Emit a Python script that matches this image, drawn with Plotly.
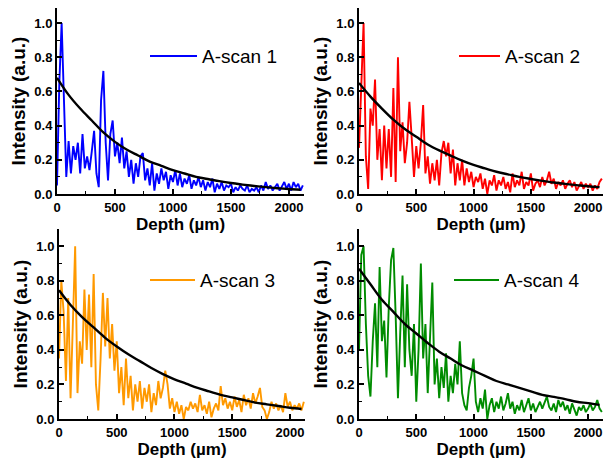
import plotly.graph_objects as go
from plotly.subplots import make_subplots

# sample positions (um), 20 um steps
depth = list(range(0, 2140, 20))

# A-scan intensities
ascan1 = [0.05, 0.65, 1.00, 0.55, 0.10, 0.31, 0.12, 0.28, 0.20, 0.30,
          0.12, 0.35, 0.15, 0.22, 0.14, 0.25, 0.37, 0.12, 0.04, 0.55,
          0.72, 0.30, 0.08, 0.35, 0.43, 0.22, 0.30, 0.18, 0.33, 0.15,
          0.25, 0.10, 0.20, 0.06, 0.18, 0.10, 0.22, 0.24, 0.08, 0.15,
          0.05, 0.18, 0.02, 0.12, 0.06, 0.15, 0.08, 0.13, 0.03, 0.11,
          0.07, 0.14, 0.05, 0.12, 0.04, 0.09, 0.06, 0.11, 0.03, 0.08,
          0.05, 0.10, 0.04, 0.08, 0.02, 0.07, 0.04, 0.09, 0.01, 0.06,
          0.03, 0.07, 0.02, 0.05, 0.04, 0.06, 0.01, 0.04, 0.02, 0.05,
          0.03, 0.02, 0.05, 0.01, 0.03, 0.02, 0.04, 0.01, 0.05, 0.02,
          0.07, 0.03, 0.05, 0.02, 0.04, 0.06, 0.02, 0.05, 0.07, 0.03,
          0.06, 0.02, 0.07, 0.04, 0.06, 0.02, 0.05]

ascan2 = [0.27, 0.65, 1.00, 0.22, 0.03, 0.50, 0.40, 0.67, 0.20, 0.38,
          0.08, 0.40, 0.15, 0.38, 0.10, 0.62, 0.07, 0.80, 0.25, 0.42,
          0.18, 0.30, 0.54, 0.33, 0.10, 0.28, 0.15, 0.30, 0.52, 0.12,
          0.22, 0.06, 0.18, 0.08, 0.20, 0.05, 0.24, 0.31, 0.22, 0.30,
          0.12, 0.26, 0.05, 0.18, 0.08, 0.20, 0.05, 0.15, 0.07, 0.13,
          0.04, 0.10, 0.07, 0.12, 0.03, 0.09, 0.00, 0.08, 0.05, 0.11,
          0.02, 0.08, 0.05, 0.10, 0.03, 0.07, 0.01, 0.12, 0.04, 0.08,
          0.05, 0.13, 0.03, 0.07, 0.05, 0.12, 0.02, 0.06, 0.08, 0.04,
          0.10, 0.05, 0.08, 0.13, 0.06, 0.09, 0.03, 0.07, 0.05, 0.08,
          0.03, 0.06, 0.08, 0.04, 0.07, 0.02, 0.05, 0.07, 0.03, 0.06,
          0.04, 0.06, 0.02, 0.05, 0.03, 0.07, 0.09]

ascan3 = [0.35, 0.80, 0.62, 0.22, 0.70, 0.12, 0.55, 1.00, 0.15, 0.45,
          0.32, 0.75, 0.40, 0.72, 0.30, 0.84, 0.20, 0.05, 0.35, 0.73,
          0.42, 0.70, 0.35, 0.55, 0.28, 0.45, 0.15, 0.30, 0.08, 0.35,
          0.12, 0.25, 0.05, 0.20, 0.10, 0.22, 0.06, 0.18, 0.10, 0.20,
          0.04, 0.15, 0.08, 0.22, 0.12, 0.18, 0.28, 0.20, 0.06, 0.12,
          0.04, 0.10, 0.03, 0.08, 0.00, 0.07, 0.05, 0.10, 0.06, 0.09,
          0.04, 0.14, 0.05, 0.08, 0.03, 0.10, 0.01, 0.06, 0.09, 0.05,
          0.19, 0.08, 0.12, 0.06, 0.10, 0.05, 0.13, 0.07, 0.11, 0.04,
          0.14, 0.08, 0.12, 0.06, 0.15, 0.09, 0.13, 0.18, 0.07, 0.05,
          0.00, 0.04, 0.10, 0.06, 0.09, 0.05, 0.08, 0.04, 0.15, 0.07,
          0.10, 0.05, 0.08, 0.06, 0.09, 0.05, 0.10]

ascan4 = [0.40, 0.95, 1.00, 0.55, 0.25, 0.13, 0.45, 0.67, 0.30, 0.88,
          0.45, 0.57, 0.24, 0.65, 0.92, 0.99, 0.60, 0.12, 0.50, 0.83,
          0.30, 0.78, 0.40, 0.25, 0.55, 0.10, 0.40, 0.90, 0.35, 0.55,
          0.15, 0.45, 0.79, 0.20, 0.35, 0.12, 0.30, 0.18, 0.38, 0.10,
          0.25, 0.15, 0.32, 0.20, 0.45, 0.15, 0.08, 0.05, 0.18, 0.25,
          0.35, 0.10, 0.04, 0.12, 0.06, 0.17, 0.00, 0.08, 0.12, 0.04,
          0.10, 0.06, 0.13, 0.05, 0.09, 0.15, 0.06, 0.10, 0.03, 0.08,
          0.05, 0.11, 0.04, 0.08, 0.12, 0.05, 0.09, 0.04, 0.07, 0.10,
          0.06, 0.09, 0.13, 0.07, 0.05, 0.09, 0.04, 0.11, 0.07, 0.10,
          0.05, 0.08, 0.03, 0.09, 0.06, 0.02, 0.07, 0.05, 0.08, 0.04,
          0.06, 0.09, 0.05, 0.07, 0.11, 0.06, 0.04]

# exponential fits, read every 100 um
fit_depth = list(range(0, 2200, 100))
fit1 = [0.68, 0.58, 0.50, 0.43, 0.36, 0.305, 0.26, 0.225, 0.19, 0.165, 0.14,
        0.12, 0.10, 0.088, 0.075, 0.064, 0.055, 0.047, 0.04, 0.034, 0.029, 0.025]
fit2 = [0.65, 0.57, 0.50, 0.435, 0.38, 0.335, 0.29, 0.255, 0.225, 0.195, 0.17,
        0.15, 0.13, 0.115, 0.10, 0.088, 0.077, 0.067, 0.059, 0.052, 0.045, 0.04]
fit3 = [0.745, 0.66, 0.59, 0.53, 0.47, 0.42, 0.375, 0.335, 0.295, 0.26, 0.23,
        0.205, 0.18, 0.16, 0.14, 0.125, 0.11, 0.095, 0.085, 0.075, 0.065, 0.058]
fit4 = [0.87, 0.78, 0.69, 0.62, 0.55, 0.495, 0.44, 0.39, 0.35, 0.31, 0.28,
        0.25, 0.22, 0.20, 0.18, 0.16, 0.14, 0.128, 0.115, 0.10, 0.092, 0.082]

names = ["A-scan 1", "A-scan 2", "A-scan 3", "A-scan 4"]
colors = ["#0000ff", "#ff0000", "#ff9900", "#008c00"]
scans = [ascan1, ascan2, ascan3, ascan4]
fits = [fit1, fit2, fit3, fit4]

fig = make_subplots(rows=2, cols=2)

pos = [(1, 1), (1, 2), (2, 1), (2, 2)]
for i in range(4):
    r, c = pos[i]
    fig.add_trace(go.Scatter(x=depth, y=scans[i], mode="lines", name=names[i],
                             line={"color": colors[i], "width": 1.9}),
                  row=r, col=c)
    fig.add_trace(go.Scatter(x=fit_depth, y=fits[i], mode="lines",
                             line={"color": "black", "width": 2.4, "shape": "spline"}),
                  row=r, col=c)

# page body adds an 8 px offset, so positions are taken relative to it
W, H = 616.0, 461.0
OFF = 8


def px_x(v):
    return (v - OFF) / W


def px_y(v):
    return min(1.0, 1 - (v - OFF) / H)


xdom = [[px_x(57), px_x(304)], [px_x(359), px_x(603)],
        [px_x(59), px_x(305)], [px_x(359), px_x(603)]]
# top row: axis top would sit above the page edge, so trim range to fit
ydom = [[px_y(194), 1.0], [px_y(194), 1.0],
        [px_y(419), px_y(229)], [px_y(419), px_y(229)]]
ytop = [1.1 * (194 - OFF) / (194 - 6)] * 2 + [1.1, 1.1]

tickfont = dict(family="Liberation Sans Narrow, Liberation Sans, Arial", size=13, color="black")
xtitlefont = dict(family="Liberation Sans, Arial", size=17, color="black")
ytitlefont = dict(family="Liberation Sans, Arial", size=19, color="black")

for i in range(4):
    sfx = "" if i == 0 else str(i + 1)
    fig.layout["xaxis" + sfx].update(
        domain=xdom[i], range=[0, 2130], dtick=500, tick0=0, automargin=False,
        showline=True, linecolor="black", linewidth=2,
        ticks="inside", ticklen=5, tickwidth=1.5, tickcolor="black",
        minor=dict(dtick=250, ticks="inside", ticklen=3, tickwidth=1.2, tickcolor="black"),
        showgrid=False, zeroline=False,
        tickfont=tickfont, tickprefix="<b>", ticksuffix="</b>",
        title=dict(text="<b>Depth (µm)</b>", font=xtitlefont, standoff=0))
    fig.layout["yaxis" + sfx].update(
        domain=ydom[i], range=[0, ytop[i]], dtick=0.2, tick0=0, tickformat=".1f",
        automargin=False,
        showline=True, linecolor="black", linewidth=2,
        ticks="inside", ticklen=5, tickwidth=1.5, tickcolor="black",
        minor=dict(dtick=0.1, ticks="inside", ticklen=3, tickwidth=1.2, tickcolor="black"),
        showgrid=False, zeroline=False,
        tickfont=tickfont, tickprefix="<b>", ticksuffix="</b>",
        title=dict(text="<b>Intensity (a.u.)</b>", font=ytitlefont, standoff=4))

# legends drawn as line + label inside each panel
leg_line = [(150, 197, 56), (459, 500, 56), (150, 195, 280), (454, 499, 280)]
shapes = []
annotations = []
for i in range(4):
    x0, x1, yy = leg_line[i]
    shapes.append(dict(type="line", xref="paper", yref="paper",
                       x0=px_x(x0), x1=px_x(x1), y0=px_y(yy), y1=px_y(yy),
                       line=dict(color=colors[i], width=2)))
    annotations.append(dict(text=names[i], xref="paper", yref="paper",
                            x=px_x(x1 + 3), y=px_y(yy), xanchor="left", yanchor="middle",
                            showarrow=False,
                            font=dict(family="Liberation Sans, Arial", size=19, color="black")))

fig.update_layout(width=616, height=461, margin=dict(l=0, r=0, t=0, b=0),
                  plot_bgcolor="white", paper_bgcolor="white", showlegend=False,
                  shapes=shapes, annotations=annotations)

fig.write_html("out.html")
